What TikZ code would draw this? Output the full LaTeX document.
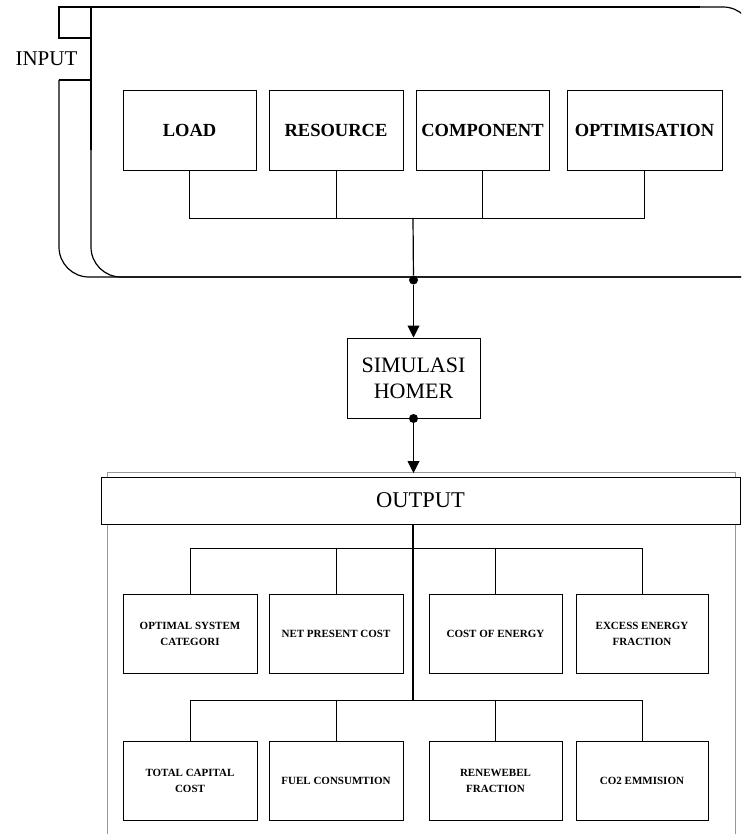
\documentclass[tikz,border=0pt]{standalone}
\usepackage{fontspec}
\setmainfont{Liberation Serif}
\usetikzlibrary{arrows.meta}
\begin{document}
\begin{tikzpicture}[x=1pt,y=-1pt,
  frame/.style={line width=1.2pt},
  gframe/.style={line width=1pt,draw=black!40},
  inbox/.style={draw,line width=0.9pt,minimum height=80pt,inner sep=0pt,align=center,font=\fontsize{18.5}{22}\selectfont\bfseries},
  obox/.style={draw,line width=0.9pt,minimum width=133pt,minimum height=79pt,inner sep=0pt,align=center,font=\fontsize{11}{16}\selectfont\bfseries},
  bigbox/.style={draw,line width=1pt,fill=white,inner sep=0pt,align=center,font=\fontsize{22.5}{26}\selectfont},
  wire/.style={line width=0.8pt},
  trunk/.style={line width=1.2pt},
  arr/.style={line width=1pt,-{Triangle[width=12pt,length=12pt]}},
  dot/.style={circle,fill,inner sep=0pt,minimum size=9pt}
]
\useasboundingbox (0,0) rectangle (741,834);
\begin{scope}
\clip (0,0) rectangle (741,834);
% input container
\draw[frame] (59,7) rectangle (91,38);
\draw[frame] (91,80) -- (59,80);
\draw[frame,rounded corners=30pt] (59,80) -- (59,277) -- (741,277);
\draw[frame,rounded corners=30pt] (741,277) -- (91,277) -- (91,150);
\draw[frame] (91,150) -- (91,7) -- (700,7);
\draw[frame,rounded corners=30pt] (690,7) -- (753,7) -- (753,277);
\node[font=\fontsize{21}{24}\selectfont] (inlbl) at (46.5,59) {INPUT};
% output container
\draw[gframe] (107,834) -- (107,472) -- (735,472) -- (735,834);
\end{scope}

% input boxes
\node[inbox,minimum width=133pt] (load) at (189.5,130) {LOAD};
\node[inbox,minimum width=134pt] (res) at (336,130) {RESOURCE};
\node[inbox,minimum width=133pt] (comp) at (482.5,130) {COMPONENT};
\node[inbox,minimum width=155pt] (opt) at (644.5,130) {OPTIMISATION};
\coordinate (tb) at (413,218);
\draw[wire] (load.south) |- (opt.south |- tb) -- (opt.south);
\draw[wire] (res.south) -- (res.south |- tb);
\draw[wire] (comp.south) -- (comp.south |- tb);

% simulation
\node[draw,line width=1pt,minimum width=133pt,minimum height=80pt,inner sep=0pt,align=center,font=\fontsize{22}{26}\selectfont] (sim) at (413.5,378) {SIMULASI\\HOMER};
\node[dot] (d1) at (413.5,280) {};
\draw[trunk] (tb) -- (d1);
\draw[arr] (d1) -- (sim.north);
\node[dot] (d2) at (sim.south) {};
\coordinate (otop) at (413.5,473);
\draw[arr] (d2) -- (otop);

% output
\node[bigbox,minimum width=639pt,minimum height=47pt] (out) at (420.5,500.5) {OUTPUT};
\node[obox,minimum width=134pt] (o1) at (190,633.5) {OPTIMAL SYSTEM\\CATEGORI};
\node[obox,minimum width=134pt] (o2) at (336,633.5) {NET PRESENT COST};
\node[obox] (o3) at (495.5,633.5) {COST OF ENERGY};
\node[obox,minimum width=132pt] (o4) at (642,633.5) {EXCESS ENERGY\\FRACTION};
\node[obox,minimum width=134pt] (o5) at (190,780.5) {TOTAL CAPITAL\\COST};
\node[obox,minimum width=134pt] (o6) at (336,780.5) {FUEL CONSUMTION};
\node[obox] (o7) at (495.5,780.5) {RENEWEBEL\\FRACTION};
\node[obox,minimum width=132pt] (o8) at (642,780.5) {CO2 EMMISION};
\coordinate (b1) at (413,548);
\coordinate (b2) at (413,700);
\draw[wire] (o1.north) |- (o4.north |- b1) -- (o4.north);
\draw[wire] (o2.north) -- (o2.north |- b1);
\draw[wire] (o3.north) -- (o3.north |- b1);
\draw[wire] (o5.north) |- (o8.north |- b2) -- (o8.north);
\draw[wire] (o6.north) -- (o6.north |- b2);
\draw[wire] (o7.north) -- (o7.north |- b2);
\draw[trunk] (out.south -| b1) -- (b2);
\end{tikzpicture}
\end{document}
